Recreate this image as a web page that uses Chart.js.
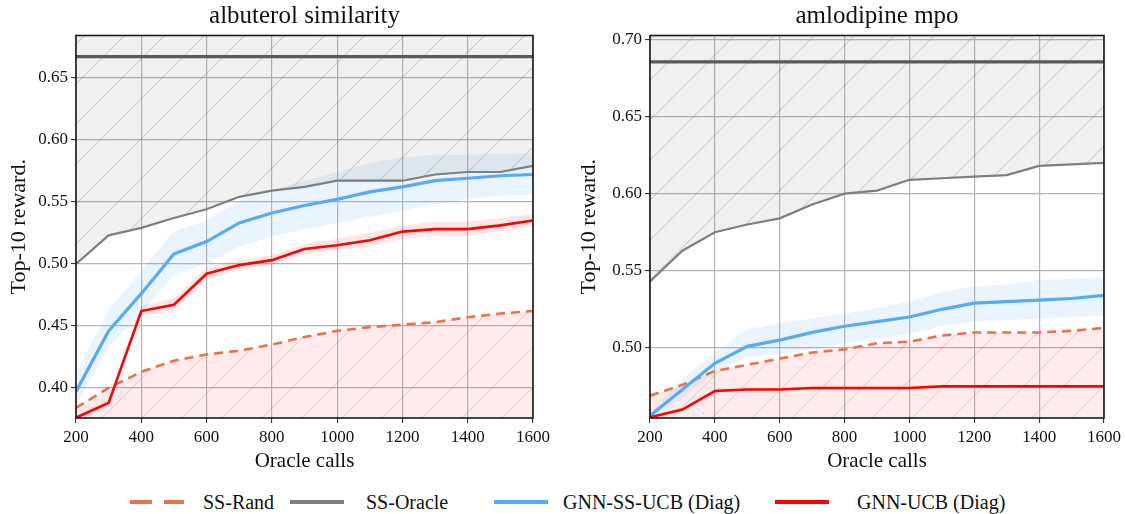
<!DOCTYPE html>
<html>
<head>
<meta charset="utf-8">
<script src="https://cdn.jsdelivr.net/npm/chart.js@4.4.0/dist/chart.umd.min.js"></script>
<style>
  body { margin: 0; background: #fff; width: 1125px; height: 514px; overflow: hidden; position: relative; font-family: "Liberation Serif", serif; color: #111; }
  canvas.panel { position: absolute; top: 0; }
  #legend { position: absolute; left: 0; top: 490px; width: 1125px; height: 26px; font-size: 20px; }
  #legend .sw { position: absolute; top: 5px; }
  #legend .lb { position: absolute; top: 1px; white-space: nowrap; }
</style>
</head>
<body>
<canvas id="left" class="panel" width="555" height="474" style="left:0"></canvas>
<canvas id="right" class="panel" width="555" height="474" style="left:570px"></canvas>
<div id="legend"></div>

<script>
// oracle calls on the x axis
const calls = [200, 300, 400, 500, 600, 700, 800, 900, 1000, 1100, 1200, 1300, 1400, 1500, 1600];
const xTicks = [200, 400, 600, 800, 1000, 1200, 1400, 1600];

// albuterol similarity
const albTitle = 'albuterol similarity';
const albBest = 0.667;
const albOracle = [0.500, 0.523, 0.529, 0.537, 0.544, 0.554, 0.559, 0.562, 0.567, 0.567, 0.567, 0.572, 0.574, 0.574, 0.579];
const albRand = [0.384, 0.400, 0.413, 0.422, 0.427, 0.430, 0.435, 0.441, 0.446, 0.449, 0.451, 0.453, 0.457, 0.460, 0.462];
const albSsUcb = [0.397, 0.446, 0.476, 0.508, 0.518, 0.533, 0.541, 0.547, 0.552, 0.558, 0.562, 0.567, 0.569, 0.571, 0.572];
const albSsUcbLo = [0.385, 0.433, 0.461, 0.491, 0.500, 0.514, 0.522, 0.528, 0.533, 0.538, 0.543, 0.548, 0.552, 0.555, 0.556];
const albSsUcbHi = [0.412, 0.463, 0.494, 0.526, 0.535, 0.551, 0.560, 0.567, 0.574, 0.581, 0.586, 0.588, 0.588, 0.589, 0.589];
const albUcb = [0.376, 0.388, 0.462, 0.467, 0.492, 0.499, 0.503, 0.512, 0.515, 0.519, 0.526, 0.528, 0.528, 0.531, 0.535];
const albUcbLo = [0.374, 0.385, 0.458, 0.462, 0.487, 0.495, 0.499, 0.508, 0.511, 0.514, 0.520, 0.523, 0.523, 0.526, 0.530];
const albUcbHi = [0.378, 0.391, 0.466, 0.472, 0.497, 0.503, 0.507, 0.516, 0.520, 0.525, 0.531, 0.534, 0.534, 0.537, 0.540];
const albYTicks = [0.40, 0.45, 0.50, 0.55, 0.60, 0.65];
const albRange = [0.3758, 0.684];

// amlodipine mpo
const amlTitle = 'amlodipine mpo';
const amlBest = 0.6855;
const amlOracle = [0.543, 0.563, 0.575, 0.580, 0.584, 0.593, 0.600, 0.602, 0.609, 0.610, 0.611, 0.612, 0.618, 0.619, 0.620];
const amlRand = [0.469, 0.476, 0.485, 0.489, 0.493, 0.497, 0.499, 0.503, 0.504, 0.508, 0.510, 0.510, 0.510, 0.511, 0.513];
const amlSsUcb = [0.456, 0.473, 0.490, 0.501, 0.505, 0.510, 0.514, 0.517, 0.520, 0.525, 0.529, 0.530, 0.531, 0.532, 0.534];
const amlSsUcbLo = [0.455, 0.467, 0.484, 0.494, 0.496, 0.499, 0.503, 0.506, 0.509, 0.514, 0.517, 0.518, 0.519, 0.520, 0.521];
const amlSsUcbHi = [0.458, 0.480, 0.497, 0.512, 0.516, 0.519, 0.522, 0.526, 0.530, 0.536, 0.540, 0.541, 0.544, 0.545, 0.546];
const amlUcb = [0.455, 0.460, 0.472, 0.473, 0.473, 0.474, 0.474, 0.474, 0.474, 0.475, 0.475, 0.475, 0.475, 0.475, 0.475];
const amlUcbLo = [0.454, 0.459, 0.471, 0.472, 0.472, 0.473, 0.473, 0.473, 0.473, 0.474, 0.474, 0.474, 0.474, 0.474, 0.474];
const amlUcbHi = [0.456, 0.461, 0.473, 0.474, 0.474, 0.475, 0.475, 0.475, 0.475, 0.476, 0.476, 0.476, 0.476, 0.476, 0.476];
const amlYTicks = [0.50, 0.55, 0.60, 0.65, 0.70];
const amlRange = [0.4545, 0.7026];

const seriesNames = ['SS-Rand', 'SS-Oracle', 'GNN-SS-UCB (Diag)', 'GNN-UCB (Diag)'];

const RAND = '#ea7050', ORACLE = '#7f7f7f', SSUCB = '#56acf4', UCB = '#ff0000';
const SERIF = '"Liberation Serif", serif';

function hatch(bg, line) {
    const s = 40;
    const c = document.createElement('canvas');
    c.width = s; c.height = s;
    const g = c.getContext('2d');
    g.fillStyle = bg;
    g.fillRect(0, 0, s, s);
    g.strokeStyle = line;
    g.lineWidth = 1.2;
    g.beginPath();
    g.moveTo(-2, s + 2); g.lineTo(s + 2, -2);
    g.moveTo(-2, 2); g.lineTo(2, -2);
    g.moveTo(s - 2, s + 2); g.lineTo(s + 2, s - 2);
    g.stroke();
    return g.createPattern(c, 'repeat');
}

const frame = {
    id: 'frame',
    afterDatasetsDraw(chart) {
        const a = chart.chartArea, ctx = chart.ctx;
        ctx.save();
        ctx.strokeStyle = '#1a1a1a';
        ctx.lineWidth = 1.6;
        ctx.strokeRect(a.left, a.top, a.right - a.left, a.bottom - a.top);
        ctx.restore();
    }
};

const pts = ys => calls.map((x, i) => ({ x: x, y: ys[i] }));

function panel(id, title, d, yTicks, range, yWidth, padRight) {
    const grayHatch = hatch('rgba(120,120,120,0.11)', 'rgba(120,120,120,0.28)');
    const pinkHatch = hatch('rgba(255,60,60,0.10)', 'rgba(150,120,120,0.22)');
    const line = (data, color, w, extra) => Object.assign({
        data: pts(data), borderColor: color, borderWidth: w, pointRadius: 0, fill: false, tension: 0
    }, extra || {});
    new Chart(document.getElementById(id), {
        type: 'line',
        data: {
            datasets: [
                line(d.ucb, UCB, 2.6),
                line(d.ssucb, SSUCB, 3.2),
                line(calls.map(() => d.best), '#595959', 3.2),
                line(d.oracle, ORACLE, 2.2, { fill: 'end', backgroundColor: grayHatch }),
                line(d.rand, RAND, 2.6, { borderDash: [9, 6], fill: 'start', backgroundColor: pinkHatch }),
                line(d.ucbHi, 'transparent', 0, { fill: '+1', backgroundColor: 'rgba(255,0,0,0.10)' }),
                line(d.ucbLo, 'transparent', 0),
                line(d.ssucbHi, 'transparent', 0, { fill: '+1', backgroundColor: 'rgba(86,172,244,0.13)' }),
                line(d.ssucbLo, 'transparent', 0)
            ]
        },
        options: {
            responsive: false,
            animation: false,
            layout: { padding: { left: 0, right: padRight, top: 0, bottom: 0 } },
            plugins: {
                legend: { display: false },
                tooltip: { enabled: false },
                title: {
                    display: true, fullSize: false, text: title, color: '#111',
                    font: { family: SERIF, size: 25, weight: 'normal', lineHeight: 1.1 },
                    padding: { top: 3, bottom: 5 }
                }
            },
            scales: {
                x: {
                    type: 'linear', min: 200, max: 1600,
                    afterBuildTicks: s => { s.ticks = xTicks.map(v => ({ value: v })); },
                    afterFit: s => { s.height = 56; },
                    border: { display: false },
                    grid: { color: '#b5b5b5', lineWidth: 1.2, tickColor: '#222', tickLength: 5, tickWidth: 1 },
                    ticks: { color: '#111', font: { family: SERIF, size: 17 }, padding: 4, maxRotation: 0, callback: v => String(v) },
                    title: { display: true, text: 'Oracle calls', color: '#111', font: { family: SERIF, size: 21 }, padding: 0 }
                },
                y: {
                    type: 'linear', min: range[0], max: range[1],
                    afterBuildTicks: s => { s.ticks = yTicks.map(v => ({ value: v })); },
                    afterFit: s => { s.width = yWidth; },
                    border: { display: false },
                    grid: { color: '#b5b5b5', lineWidth: 1.2, tickColor: '#222', tickLength: 5, tickWidth: 1 },
                    ticks: { color: '#111', font: { family: SERIF, size: 17 }, padding: 3, callback: v => v.toFixed(2) },
                    title: { display: true, text: 'Top-10 reward.', color: '#111', font: { family: SERIF, size: 22 }, padding: { top: 6, bottom: 0 } }
                }
            }
        },
        plugins: [frame]
    });
}

panel('left', albTitle, {
    best: albBest, oracle: albOracle, rand: albRand, ssucb: albSsUcb, ssucbLo: albSsUcbLo, ssucbHi: albSsUcbHi,
    ucb: albUcb, ucbLo: albUcbLo, ucbHi: albUcbHi
}, albYTicks, albRange, 76, 22);

panel('right', amlTitle, {
    best: amlBest, oracle: amlOracle, rand: amlRand, ssucb: amlSsUcb, ssucbLo: amlSsUcbLo, ssucbHi: amlSsUcbHi,
    ucb: amlUcb, ucbLo: amlUcbLo, ucbHi: amlUcbHi
}, amlYTicks, amlRange, 80, 17);

// legend below both panels
const swatches = [
    { color: RAND, dash: '22 12', x: 130, tx: 203 },
    { color: ORACLE, dash: '', x: 290, tx: 366 },
    { color: SSUCB, dash: '', x: 494, tx: 563 },
    { color: UCB, dash: '', x: 775, tx: 857 }
];
const legend = document.getElementById('legend');
seriesNames.forEach((name, i) => {
    const s = swatches[i];
    legend.insertAdjacentHTML('beforeend',
        `<svg class="sw" style="left:${s.x}px" width="56" height="14"><line x1="0" y1="7" x2="54" y2="7" stroke="${s.color}" stroke-width="4" stroke-dasharray="${s.dash}"/></svg>` +
        `<span class="lb" style="left:${s.tx}px">${name}</span>`);
});
</script>
</body>
</html>
